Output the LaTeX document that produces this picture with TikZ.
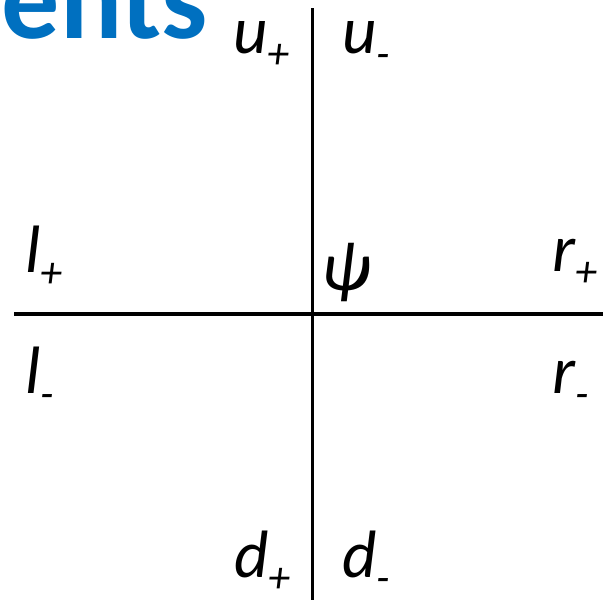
\documentclass[tikz,border=0pt]{standalone}
\usepackage{fontspec}
\setmainfont{Carlito}
\definecolor{titleblue}{RGB}{0,112,192}
\newcommand{\sublbl}[2]{#1\raisebox{-15pt}{\fontsize{44}{44}\selectfont #2}}
\tikzset{
  lab/.style={anchor=base west,inner sep=0pt,font=\fontsize{67}{67}\selectfont\itshape},
  axis/.style={line width=3.2pt}
}
\begin{document}
\begin{tikzpicture}[x=1pt,y=-1pt]
    \useasboundingbox (0,0) rectangle (603,600);
    % title, cut off by the slide crop
    \node[anchor=base east,inner sep=0pt,text=titleblue,font=\fontsize{116}{116}\selectfont\bfseries] (title) at (208,38) {ents};
    % axes
    \coordinate (top) at (312.5,8); \coordinate (bot) at (312.5,600);
    \coordinate (lft) at (14,314); \coordinate (rgt) at (603,314);
    \draw[axis] (top)--(bot);
    \draw[axis] (lft)--(rgt);
    % labels
    \node[lab] (up) at (233,53) {\sublbl{u}{+}};
    \node[lab] (um) at (342,53) {\sublbl{u}{-}};
    \node[lab] (lp) at (25,272) {\sublbl{l}{+}};
    \node[lab] (lm) at (25,393) {\sublbl{l}{-}};
    \node[lab] (rp) at (552,271) {\sublbl{r}{+}};
    \node[lab] (rm) at (552,393) {\sublbl{r}{-}};
    \node[lab] (dp) at (234,577) {\sublbl{d}{+}};
    \node[lab] (dm) at (342,577) {\sublbl{d}{-}};
    \node[inner sep=0pt,font=\fontsize{70}{70}\selectfont\itshape] (psi) at (346,273) {ψ};
\end{tikzpicture}
\end{document}
